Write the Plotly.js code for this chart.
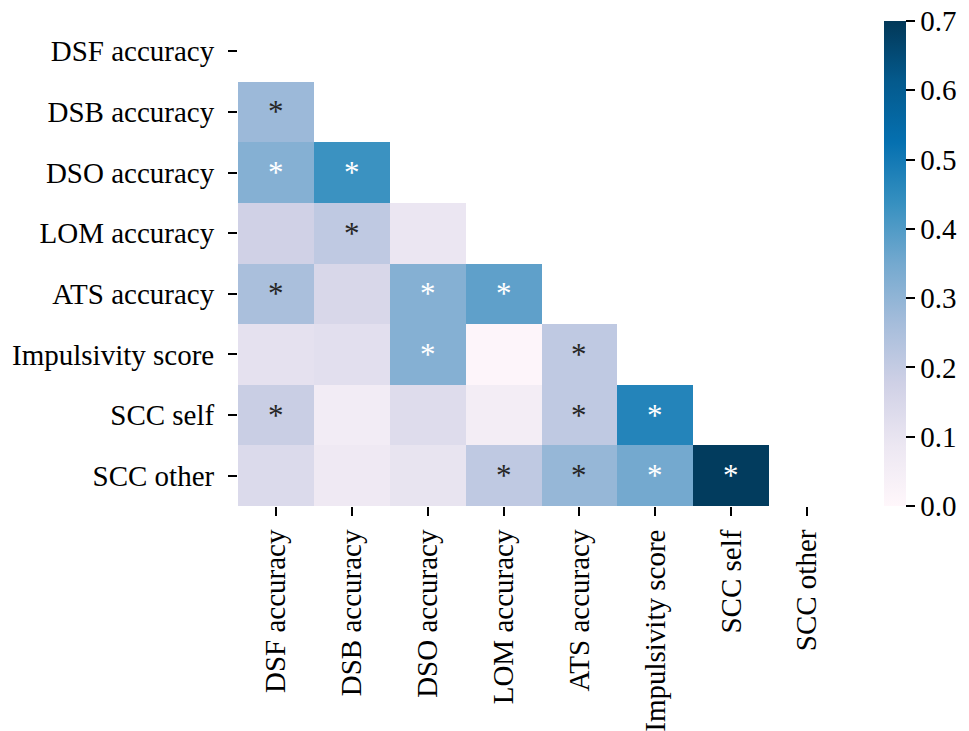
<!DOCTYPE html>
<html>
<head>
<meta charset="utf-8">
<script src="https://cdn.plot.ly/plotly-3.0.1.min.js"></script>
<style>
  html, body { margin: 0; padding: 0; background: #ffffff; }
  #chart { width: 969px; height: 731px; }
</style>
</head>
<body>
<div id="chart"></div>
<script>
// Measures compared in the correlation matrix (same order on both axes)
const measures = [
  "DSF accuracy", "DSB accuracy", "DSO accuracy", "LOM accuracy",
  "ATS accuracy", "Impulsivity score", "SCC self", "SCC other"
];

// Lower-triangle correlation values, one array per row (null = masked)
const rowDSF = [null, null, null, null, null, null, null, null];
const rowDSB = [0.28, null, null, null, null, null, null, null];
const rowDSO = [0.32, 0.43, null, null, null, null, null, null];
const rowLOM = [0.175, 0.21, 0.09, null, null, null, null, null];
const rowATS = [0.255, 0.15, 0.32, 0.38, null, null, null, null];
const rowImp = [0.11, 0.12, 0.32, 0.01, 0.21, null, null, null];
const rowSelf = [0.19, 0.06, 0.13, 0.055, 0.21, 0.47, null, null];
const rowOther = [0.14, 0.075, 0.10, 0.21, 0.29, 0.35, 0.69, null];

// Significance flags (1 = starred cell)
const sigDSF = [0, 0, 0, 0, 0, 0, 0, 0];
const sigDSB = [1, 0, 0, 0, 0, 0, 0, 0];
const sigDSO = [1, 1, 0, 0, 0, 0, 0, 0];
const sigLOM = [0, 1, 0, 0, 0, 0, 0, 0];
const sigATS = [1, 0, 1, 1, 0, 0, 0, 0];
const sigImp = [0, 0, 1, 0, 1, 0, 0, 0];
const sigSelf = [1, 0, 0, 0, 1, 1, 0, 0];
const sigOther = [0, 0, 0, 1, 1, 1, 1, 0];

const colorbarTicks = [0.0, 0.1, 0.2, 0.3, 0.4, 0.5, 0.6, 0.7];

const z = [rowDSF, rowDSB, rowDSO, rowLOM, rowATS, rowImp, rowSelf, rowOther];
const sig = [sigDSF, sigDSB, sigDSO, sigLOM, sigATS, sigImp, sigSelf, sigOther];

// Sequential purple-blue scale
const puBu = [
  [0.000, "#fff7fb"], [0.125, "#ece7f2"], [0.250, "#d0d1e6"],
  [0.375, "#a6bddb"], [0.500, "#74a9cf"], [0.625, "#3690c0"],
  [0.750, "#0570b0"], [0.875, "#045a8d"], [1.000, "#023858"]
];

const serif = "Liberation Serif, Times New Roman, serif";
const labelSize = 29;

const annotations = [];
z.forEach((row, i) => {
  row.forEach((v, j) => {
    if (v !== null && sig[i][j]) {
      annotations.push({
        x: measures[j], y: measures[i], xref: "x", yref: "y",
        text: "*", showarrow: false,
        font: { family: serif, size: 31, color: v > 0.3 ? "#ffffff" : "#262626" },
        yshift: 0
      });
    }
  });
});

const trace = {
  type: "heatmap",
  x: measures,
  y: measures,
  z: z,
  zmin: 0, zmax: 0.7,
  colorscale: puBu,
  hoverongaps: false,
  xgap: 0, ygap: 0,
  colorbar: {
    x: 1.0625, xanchor: "left", xpad: 0,
    y: 0.5, yanchor: "middle", ypad: 0,
    len: 1, lenmode: "fraction",
    thickness: 22, outlinewidth: 0,
    tickvals: colorbarTicks,
    ticktext: colorbarTicks.map(t => t.toFixed(1)),
    ticks: "outside", ticklen: 9, tickwidth: 2, tickcolor: "#000000",
    ticklabelstandoff: 2,
    tickfont: { family: serif, size: labelSize, color: "#000000" }
  }
};

const layout = {
  width: 969, height: 731,
  margin: { l: 238, r: 123, t: 21, b: 225 },
  paper_bgcolor: "#ffffff", plot_bgcolor: "#ffffff",
  font: { family: serif, size: labelSize, color: "#000000" },
  xaxis: {
    type: "category", showgrid: false, zeroline: false, showline: false,
    ticks: "outside", ticklen: 9, tickwidth: 2, tickcolor: "#000000",
    ticklabelstandoff: 2,
    tickangle: -90, tickfont: { family: serif, size: labelSize, color: "#000000" }
  },
  yaxis: {
    type: "category", autorange: "reversed", showgrid: false, zeroline: false, showline: false,
    ticks: "outside", ticklen: 9, tickwidth: 2, tickcolor: "#000000",
    ticklabelstandoff: 8,
    tickfont: { family: serif, size: labelSize, color: "#000000" }
  },
  annotations: annotations
};

Plotly.newPlot("chart", [trace], layout, { displayModeBar: false, staticPlot: true });
</script>
</body>
</html>
